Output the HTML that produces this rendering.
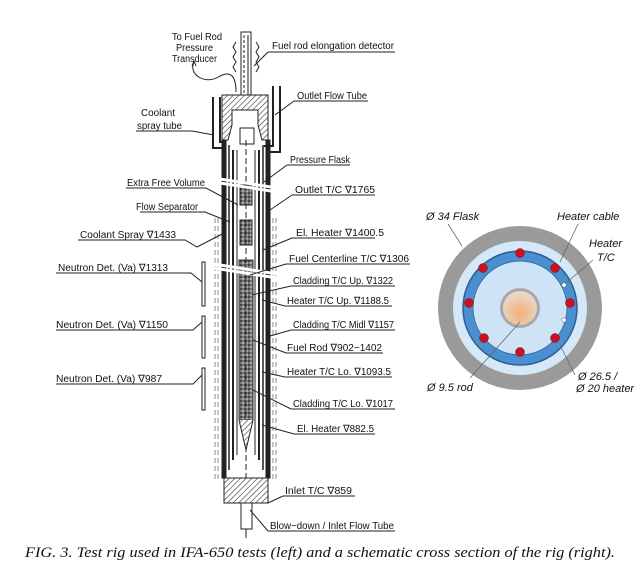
<!DOCTYPE html>
<html><head><meta charset="utf-8"><style>
html,body{margin:0;padding:0;background:#fff;}
svg{display:block;}
text{font-family:"Liberation Sans",sans-serif;fill:#111;}
.l{font-size:10px;}
</style></head><body>
<svg width="641" height="570" viewBox="0 0 641 570" xmlns="http://www.w3.org/2000/svg">
<defs>
<pattern id="hat" width="4" height="4" patternUnits="userSpaceOnUse" patternTransform="rotate(45)"><rect width="4" height="4" fill="#fff"/><line x1="0" y1="0" x2="0" y2="4" stroke="#333" stroke-width="1.2"/></pattern>
<pattern id="sp" width="4" height="4" patternUnits="userSpaceOnUse"><rect width="4" height="4" fill="#777"/><circle cx="1" cy="1" r="0.9" fill="#222"/><circle cx="3" cy="3" r="0.9" fill="#ccc"/></pattern>
<radialGradient id="rod" cx="50%" cy="65%" r="60%"><stop offset="0" stop-color="#f4b07a"/><stop offset="1" stop-color="#e8d8c8"/></radialGradient>
</defs>
<rect width="641" height="570" fill="#fff"/>
<g stroke="#222" fill="none" stroke-width="1">
<rect x="241" y="32" width="10" height="70" fill="#fff"/>
<line x1="244" y1="35" x2="244" y2="100" stroke-dasharray="3,2"/>
<line x1="248" y1="35" x2="248" y2="100"/>
<path d="M236 42 l-3 5 3 5 -3 5 3 5 -3 5 3 5 M256 42 l3 5 -3 5 3 5 -3 5 3 5 -3 5"/>
<path d="M194 62 C188 74,205 86,220 76 C232 70,236 78,236 92"/>
<path d="M192 66 l2 -5 2 5"/>
<path d="M222 95 H268 V140 H262 L258 125 V110 H232 V125 L228 140 H222 Z" fill="url(#hat)"/>
<rect x="240" y="128" width="14" height="16" fill="#fff"/>
<path d="M213 97 V148 H222 M220 97 V142 H226" stroke-width="2"/>
<path d="M280 86 V152 H268 M273 86 V146 H264" stroke-width="2"/>
<rect x="222" y="140" width="4" height="338" fill="#222"/>
<rect x="266" y="140" width="4" height="338" fill="#222"/>
<line x1="229" y1="145" x2="229" y2="470" stroke-width="1.5"/>
<line x1="263" y1="145" x2="263" y2="470" stroke-width="1.5"/>
<line x1="233" y1="150" x2="233" y2="460" stroke-width="2"/>
<line x1="259" y1="150" x2="259" y2="460" stroke-width="2"/>
<line x1="237" y1="150" x2="237" y2="455"/>
<line x1="255" y1="150" x2="255" y2="455"/>
<rect x="239" y="260" width="14" height="160" fill="url(#sp)" stroke="#333"/>
<rect x="240" y="185" width="12" height="20" fill="url(#sp)"/>
<rect x="240" y="220" width="12" height="25" fill="url(#sp)"/>
<line x1="246" y1="140" x2="246" y2="500" stroke-dasharray="6,3"/>
<path d="M239 420 L246 450 L253 420" fill="url(#hat)"/>
<path d="M215 218 V480 M218 218 V480 M273 218 V480 M276 218 V480" stroke-dasharray="5,3" stroke="#888"/>
<rect x="224" y="478" width="44" height="25" fill="url(#hat)"/>
<rect x="241" y="503" width="11" height="26" fill="#fff"/>
<line x1="246" y1="529" x2="246" y2="538"/>
<path d="M175 172 L290 190 M175 176 L290 194 M175 258 L290 276 M175 262 L290 280" stroke="#fff" stroke-width="3"/>
<rect x="202" y="262" width="3" height="44"/>
<rect x="202" y="316" width="3" height="42"/>
<rect x="202" y="368" width="3" height="42"/>
<path d="M268 52 H395 M268 52 L254 66"/>
<path d="M294 101 H368 M294 101 L275 115"/>
<path d="M136 131 H192 L214 135"/>
<path d="M287 165 H350 M287 165 L264 182"/>
<path d="M126 188 H206 L238 205"/>
<path d="M292 195 H375 M292 195 L270 210"/>
<path d="M140 212 H205 L230 222"/>
<path d="M78 240 H185 L197 247 L226 232"/>
<path d="M292 238 H375 M292 238 L263 250"/>
<path d="M286 264 H410 M286 264 L250 275"/>
<path d="M56 273 H191 L202 282"/>
<path d="M291 286 H395 M291 286 L252 295"/>
<path d="M285 306 H392 M285 306 L262 300"/>
<path d="M291 330 H395 M291 330 L270 336"/>
<path d="M56 330 H193 L202 322"/>
<path d="M286 353 H383 M286 353 L253 340"/>
<path d="M285 377 H392 M285 377 L262 372"/>
<path d="M56 384 H193 L202 375"/>
<path d="M291 409 H395 M291 409 L253 390"/>
<path d="M294 434 H375 M294 434 L262 425"/>
<path d="M283 496 H355 M283 496 L268 503"/>
<path d="M268 531 H395 M268 531 L250 510"/>
</g>
<g class="l">
<text x="172" y="40" textLength="50" lengthAdjust="spacingAndGlyphs">To Fuel Rod</text>
<text x="176" y="51" textLength="37" lengthAdjust="spacingAndGlyphs">Pressure</text>
<text x="172" y="62" textLength="45" lengthAdjust="spacingAndGlyphs">Transducer</text>
<text x="272" y="49" textLength="122" lengthAdjust="spacingAndGlyphs">Fuel rod elongation detector</text>
<text x="297" y="99" textLength="70" lengthAdjust="spacingAndGlyphs">Outlet Flow Tube</text>
<text x="141" y="116" textLength="34" lengthAdjust="spacingAndGlyphs">Coolant</text>
<text x="137" y="129" textLength="45" lengthAdjust="spacingAndGlyphs">spray tube</text>
<text x="290" y="163" textLength="60" lengthAdjust="spacingAndGlyphs">Pressure Flask</text>
<text x="127" y="186" textLength="78" lengthAdjust="spacingAndGlyphs">Extra Free Volume</text>
<text x="295" y="193" textLength="80" lengthAdjust="spacingAndGlyphs">Outlet T/C  ∇1765</text>
<text x="136" y="210" textLength="62" lengthAdjust="spacingAndGlyphs">Flow Separator</text>
<text x="80" y="238" textLength="96" lengthAdjust="spacingAndGlyphs">Coolant Spray  ∇1433</text>
<text x="296" y="236" textLength="88" lengthAdjust="spacingAndGlyphs">El. Heater  ∇1400.5</text>
<text x="289" y="262" textLength="120" lengthAdjust="spacingAndGlyphs">Fuel Centerline T/C  ∇1306</text>
<text x="58" y="271" textLength="110" lengthAdjust="spacingAndGlyphs">Neutron Det. (Va)  ∇1313</text>
<text x="293" y="284" textLength="100" lengthAdjust="spacingAndGlyphs">Cladding T/C Up.  ∇1322</text>
<text x="287" y="304" textLength="102" lengthAdjust="spacingAndGlyphs">Heater T/C Up.  ∇1188.5</text>
<text x="293" y="328" textLength="101" lengthAdjust="spacingAndGlyphs">Cladding T/C Midl  ∇1157</text>
<text x="56" y="328" textLength="112" lengthAdjust="spacingAndGlyphs">Neutron Det. (Va)  ∇1150</text>
<text x="287" y="351" textLength="95" lengthAdjust="spacingAndGlyphs">Fuel Rod  ∇902−1402</text>
<text x="287" y="375" textLength="104" lengthAdjust="spacingAndGlyphs">Heater T/C Lo.  ∇1093.5</text>
<text x="56" y="382" textLength="106" lengthAdjust="spacingAndGlyphs">Neutron Det. (Va)  ∇987</text>
<text x="293" y="407" textLength="100" lengthAdjust="spacingAndGlyphs">Cladding T/C Lo.  ∇1017</text>
<text x="297" y="432" textLength="77" lengthAdjust="spacingAndGlyphs">El. Heater  ∇882.5</text>
<text x="285" y="494" textLength="67" lengthAdjust="spacingAndGlyphs">Inlet T/C  ∇859</text>
<text x="270" y="529" textLength="124" lengthAdjust="spacingAndGlyphs">Blow−down  /  Inlet Flow Tube</text>
</g>
<circle cx="520" cy="308" r="82" fill="#9a9a9a"/>
<circle cx="520" cy="308" r="67" fill="#d4e8f8"/>
<circle cx="520" cy="308" r="57" fill="#4a90d0" stroke="#2d5f8f" stroke-width="1.5"/>
<circle cx="520" cy="308" r="47" fill="#cfe3f6" stroke="#3a6fa0" stroke-width="1"/>
<circle cx="520" cy="308" r="20" fill="#a8a8a8"/>
<circle cx="520" cy="308" r="17" fill="url(#rod)"/>
<g fill="#cc1020" stroke="#801010" stroke-width="0.5">
<circle cx="520" cy="253" r="4.5"/><circle cx="555" cy="268" r="4.5"/><circle cx="570" cy="303" r="4.5"/><circle cx="555" cy="338" r="4.5"/>
<circle cx="520" cy="352" r="4.5"/><circle cx="484" cy="338" r="4.5"/><circle cx="469" cy="303" r="4.5"/><circle cx="483" cy="268" r="4.5"/>
</g>
<circle cx="564" cy="285" r="2.2" fill="#fff" stroke="#555" stroke-width="0.5"/>
<circle cx="564" cy="320" r="2.2" fill="#fff" stroke="#555" stroke-width="0.5"/>
<g stroke="#666" stroke-width="0.8" fill="none">
<path d="M448 224 L462 246"/><path d="M578 224 L560 262"/><path d="M593 260 L566 283"/>
<path d="M520 322 L470 378"/><path d="M575 375 L560 345"/>
</g>
<g style="font-size:11px;font-style:italic">
<text x="426" y="220">Ø 34 Flask</text>
<text x="557" y="220">Heater cable</text>
<text x="589" y="247">Heater</text>
<text x="597" y="261">T/C</text>
<text x="427" y="391">Ø 9.5 rod</text>
<text x="578" y="380">Ø 26.5 /</text>
<text x="576" y="392">Ø 20 heater</text>
</g>
<text x="25" y="557" style="font-family:'Liberation Serif',serif;font-style:italic;font-size:15px" textLength="590" lengthAdjust="spacingAndGlyphs">FIG. 3.   Test rig used in IFA-650 tests (left) and a schematic cross section of the rig (right).</text>
</svg>
</body></html>
